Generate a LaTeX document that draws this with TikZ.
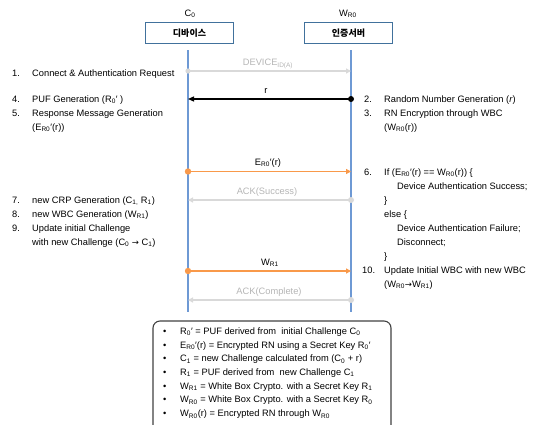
\documentclass[tikz,border=0pt]{standalone}
\usepackage{fontspec}
\setmainfont{Liberation Sans}
\newfontfamily\krfont{Noto Sans CJK KR}
\newfontfamily\arrowfont{DejaVu Sans}
\usetikzlibrary{arrows.meta}
\definecolor{lifeblue}{HTML}{6E99D4}
\definecolor{boxblue}{HTML}{41719C}
\definecolor{msgorange}{HTML}{F9994A}
\definecolor{msggray}{HTML}{D9D9D9}
\definecolor{lblgray}{HTML}{B5B5B5}
\definecolor{framegray}{HTML}{404040}
\newcommand{\sbs}[1]{\textsubscript{#1}}
\newcommand{\rarr}{{\arrowfont\fontsize{8.5}{10}\selectfont →}}
\begin{document}
\begin{tikzpicture}[x=1pt,y=-1pt,font=\fontsize{9.3}{14}\selectfont,
  actorbox/.style={draw=boxblue, line width=1.1pt, minimum width=88pt, minimum height=20.5pt, inner sep=0pt, font=\krfont\bfseries\fontsize{9}{10}\selectfont},
  lifeline/.style={draw=lifeblue, line width=1.2pt},
  graymsg/.style={draw=msggray, line width=1.2pt, -{Triangle[length=5pt,width=5pt]}},
  orangemsg/.style={draw=msgorange, line width=1.3pt, -{Triangle[length=5pt,width=5pt]}},
  blackmsg/.style={draw=black, line width=1.3pt, -{Triangle[length=6pt,width=5pt]}},
  txt/.style={anchor=base west, inner sep=0pt},
  mlbl/.style={anchor=base, inner sep=0pt},
  graylbl/.style={mlbl, text=lblgray}]
\useasboundingbox (0,0) rectangle (533,424);

% actors
\node[mlbl] (c0lbl) at (190,16.4) {C\sbs{0}};
\node[mlbl] (wlbl) at (348,16.4) {W\sbs{R0}};
\node[actorbox] (dev) at (189.5,33) {디바이스};
\node[actorbox] (srv) at (348.5,33) {인증서버};

% lifelines
\coordinate (devtop) at (188,50);
\coordinate (devbot) at (188,312);
\coordinate (srvtop) at (351,50);
\coordinate (srvbot) at (351,312);
\draw[lifeline] (devtop) -- (devbot);
\draw[lifeline] (srvtop) -- (srvbot);

% message points
\coordinate (dA) at (188,71);   \coordinate (sA) at (351,71);
\coordinate (sB) at (351,99);   \coordinate (dB) at (188,99);
\coordinate (dC) at (188,171.5);\coordinate (sC) at (351,171.5);
\coordinate (sD) at (351,200);  \coordinate (dD) at (188,200);
\coordinate (dE) at (188,271);  \coordinate (sE) at (351,271);
\coordinate (sF) at (351,300);  \coordinate (dF) at (188,300);

\draw[graymsg] (dA) -- (sA);
\draw[blackmsg] (sB) -- (dB);
\draw[orangemsg] (dC) -- (sC);
\draw[graymsg] (sD) -- (dD);
\draw[orangemsg] (dE) -- (sE);
\draw[graymsg] (sF) -- (dF);

\fill[msggray] (dA) circle (2.6);
\fill[black] (sB) circle (3);
\fill[msgorange] (dC) circle (3.2);
\fill[msggray] (sD) circle (3);
\fill[msgorange] (dE) circle (3.2);
\fill[msggray] (sF) circle (3);

% message labels
\node[graylbl] (mA) at (268,65.4) {DEVICE\sbs{ID(A)}};
\node[mlbl] (mB) at (266,93) {r};
\node[mlbl] (mC) at (268,165.4) {E\sbs{R0}′(r)};
\node[graylbl] (mD) at (267,194.4) {ACK(Success)};
\node[mlbl] (mE) at (270,265.4) {W\sbs{R1}};
\node[graylbl] (mF) at (269,294.4) {ACK(Complete)};

% left side steps
\node[txt] (l1) at (12,76.5) {\begin{tabular}[t]{@{}p{20pt}@{}l@{}}1. & Connect \& Authentication Request\end{tabular}};
\node[txt] (l2) at (12,102.4) {\begin{tabular}[t]{@{}p{20pt}@{}l@{}}4. & PUF Generation (R\sbs{0}′ )\\ 5. & Response Message Generation\\ & (E\sbs{R0}′(r))\end{tabular}};
\node[txt] (l3) at (12,203.4) {\begin{tabular}[t]{@{}p{20pt}@{}l@{}}7. & new CRP Generation (C\sbs{1,} R\sbs{1})\\ 8. & new WBC Generation (W\sbs{R1})\\ 9. & Update initial Challenge\\ & with new Challenge (C\sbs{0} \rarr{} C\sbs{1})\end{tabular}};

% right side steps
\node[txt] (r1) at (364,102.4) {\begin{tabular}[t]{@{}p{20pt}@{}l@{}}2. & Random Number Generation (\textit{r})\\ 3. & RN Encryption through WBC\\ & (W\sbs{R0}(r))\end{tabular}};
\node[txt] (r2) at (364,175.4) {\begin{tabular}[t]{@{}p{20pt}@{}l@{}}6. & If (E\sbs{R0}′(r) == W\sbs{R0}(r)) \{\\ & \hspace{13pt}Device Authentication Success;\\ & \}\\ & else \{\\ & \hspace{13pt}Device Authentication Failure;\\ & \hspace{13pt}Disconnect;\\ & \}\\ \hspace{-2pt}10. & Update Initial WBC with new WBC\\ & (W\sbs{R0}\rarr W\sbs{R1})\end{tabular}};

% legend box
\draw[draw=framegray, line width=1.1pt, rounded corners=7pt] (153,432) -- (153,321) -- (391,321) -- (391,432);
\node[txt] (legend) at (163,334.4) {\fontsize{9.3}{13.7}\selectfont\begin{tabular}[t]{@{}p{17pt}@{}l@{}}
• & R\sbs{0}′ = PUF derived from\ \ initial Challenge C\sbs{0}\\
• & E\sbs{R0}′(r) = Encrypted RN using a Secret Key R\sbs{0}′\\
• & C\sbs{1} = new Challenge calculated from (C\sbs{0} + r)\\
• & R\sbs{1} = PUF derived from\ \ new Challenge C\sbs{1}\\
• & W\sbs{R1} = White Box Crypto. with a Secret Key R\sbs{1}\\
• & W\sbs{R0} = White Box Crypto. with a Secret Key R\sbs{0}\\
• & W\sbs{R0}(r) = Encrypted RN through W\sbs{R0}
\end{tabular}};
\end{tikzpicture}
\end{document}
